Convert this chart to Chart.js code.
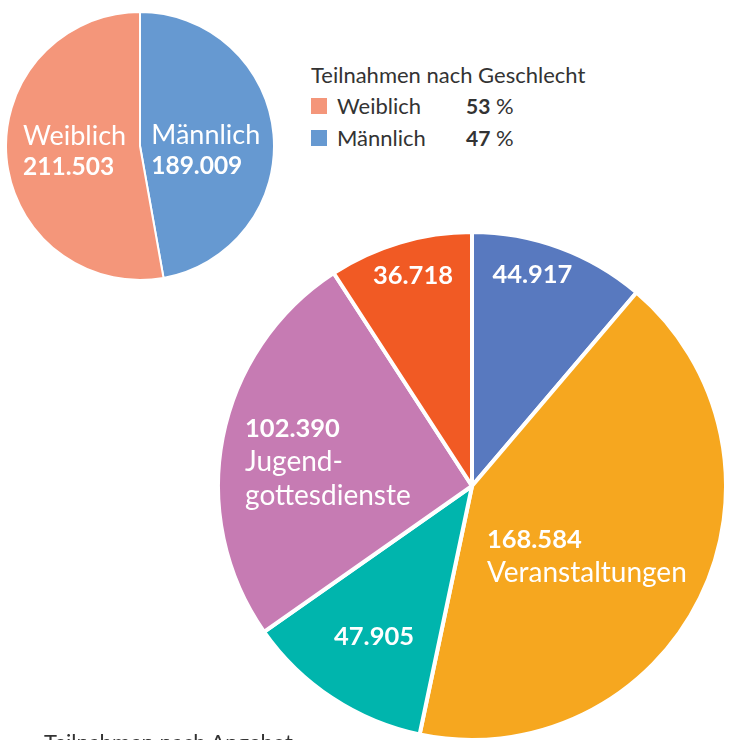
<!DOCTYPE html>
<html lang="de">
<head>
<meta charset="utf-8">
<script src="https://cdn.jsdelivr.net/npm/chart.js@4/dist/chart.umd.min.js"></script>
<style>
  html, body { margin: 0; padding: 0; background: #fff; overflow: hidden; }
  body { width: 731px; height: 740px; position: relative; font-family: Lato, "Open Sans", sans-serif; color: #333; }
  .pie { position: absolute; }
  #geschlechtBox { left: 5px; top: 11px; width: 270px; height: 270px; }
  #angebotBox { left: 216px; top: 230px; width: 512px; height: 512px; }
  #legende { position: absolute; left: 311px; top: 62px; font-size: 22px; line-height: 26px; }
  #legende .titel { margin-bottom: 2px; }
  #legende .zeile { display: flex; align-items: center; height: 32px; }
  #legende .box { width: 16px; height: 16px; margin-right: 10px; }
  #legende .name { width: 129px; }
  #legende .pct b { font-weight: 700; font-size: 21px; }
  #unten { position: absolute; left: 44px; top: 729px; font-size: 22px; line-height: 26px; }
</style>
</head>
<body>
<div class="pie" id="geschlechtBox"><canvas id="geschlecht"></canvas></div>
<div class="pie" id="angebotBox"><canvas id="angebot"></canvas></div>
<div id="legende"></div>
<div id="unten">Teilnahmen nach Angebot</div>

<script>
// Teilnahmen nach Geschlecht
const geschlechtLabels = ['Männlich', 'Weiblich'];
const geschlechtWerte = [189009, 211503];
const geschlechtFarben = ['#6699d1', '#f4967a'];

// Teilnahmen nach Angebot (im Uhrzeigersinn ab 12 Uhr)
const angebotLabels = ['', 'Veranstaltungen', '', 'Jugend-\ngottesdienste', ''];
const angebotWerte = [44917, 168584, 47905, 102390, 36718];
const angebotFarben = ['#5879bf', '#f6a71f', '#00b5ad', '#c67bb3', '#f15a24'];

const fmt = n => n.toLocaleString('de-DE');
const FONT = 'Lato, "Open Sans", sans-serif';

// Beschriftungen in den Tortenstücken
const sliceLabels = {
    id: 'sliceLabels',
    afterDatasetsDraw(chart, args, opts) {
        const ctx = chart.ctx;
        const meta = chart.getDatasetMeta(0);
        const werte = chart.data.datasets[0].data;
        meta.data.forEach((arc, i) => {
            const p = arc.getProps(['x', 'y', 'startAngle', 'endAngle', 'outerRadius'], true);
            const mid = (p.startAngle + p.endAngle) / 2;
            const f = opts.radius[i];
            const nudge = opts.nudge[i];
            const cx = p.x + Math.cos(mid) * p.outerRadius * f + nudge[0];
            const cy = p.y + Math.sin(mid) * p.outerRadius * f + nudge[1];

            const zahl = { text: fmt(werte[i]), bold: true };
            const namen = (chart.data.labels[i] || '').split('\n').filter(s => s).map(s => ({ text: s, bold: false }));
            const zeilen = opts.nameFirst ? namen.concat([zahl]) : [zahl].concat(namen);
            const font = z => z.bold ? '700 ' + opts.numSize + 'px ' + FONT : '400 ' + opts.nameSize + 'px ' + FONT;

            ctx.save();
            ctx.fillStyle = '#fff';
            ctx.textBaseline = 'middle';
            ctx.textAlign = 'left';
            let breite = 0;
            zeilen.forEach(z => {
                ctx.font = font(z);
                breite = Math.max(breite, ctx.measureText(z.text).width);
            });
            const x0 = cx - breite / 2;
            let y = cy - (zeilen.length - 1) * opts.lineHeight / 2;
            zeilen.forEach(z => {
                ctx.font = font(z);
                ctx.fillText(z.text, x0, y);
                y += opts.lineHeight;
            });
            ctx.restore();
        });
    }
};

new Chart(document.getElementById('geschlecht'), {
    type: 'pie',
    data: {
        labels: geschlechtLabels,
        datasets: [{
            data: geschlechtWerte,
            backgroundColor: geschlechtFarben,
            borderColor: '#fff',
            borderWidth: 2
        }]
    },
    options: {
        responsive: true,
        maintainAspectRatio: false,
        animation: false,
        plugins: {
            legend: { display: false },
            tooltip: { enabled: false },
            sliceLabels: {
                radius: [0.53, 0.49],
                nudge: [[-5, 11], [0, 0]],
                nameFirst: true, nameSize: 27, numSize: 24.5, lineHeight: 30
            }
        }
    },
    plugins: [sliceLabels]
});

new Chart(document.getElementById('angebot'), {
    type: 'pie',
    data: {
        labels: angebotLabels,
        datasets: [{
            data: angebotWerte,
            backgroundColor: angebotFarben,
            borderColor: '#fff',
            borderWidth: 4
        }]
    },
    options: {
        responsive: true,
        maintainAspectRatio: false,
        animation: false,
        plugins: {
            legend: { display: false },
            tooltip: { enabled: false },
            sliceLabels: {
                radius: [0.86, 0.53, 0.7, 0.57, 0.86],
                nudge: [[-15, -6], [-6, 11], [0, 2], [-2, 4], [3, -1]],
                nameFirst: false, nameSize: 28, numSize: 25.5, lineHeight: 34
            }
        }
    },
    plugins: [sliceLabels]
});

// Legende Geschlecht (Weiblich zuerst)
const summe = geschlechtWerte.reduce((a, b) => a + b, 0);
const legende = document.getElementById('legende');
let html = '<div class="titel">Teilnahmen nach Geschlecht</div>';
[1, 0].forEach(i => {
    const pct = Math.round(geschlechtWerte[i] / summe * 100);
    html += '<div class="zeile"><span class="box" style="background:' + geschlechtFarben[i] + '"></span>'
        + '<span class="name">' + geschlechtLabels[i] + '</span>'
        + '<span class="pct"><b>' + pct + '</b> %</span></div>';
});
legende.innerHTML = html;
</script>
</body>
</html>
